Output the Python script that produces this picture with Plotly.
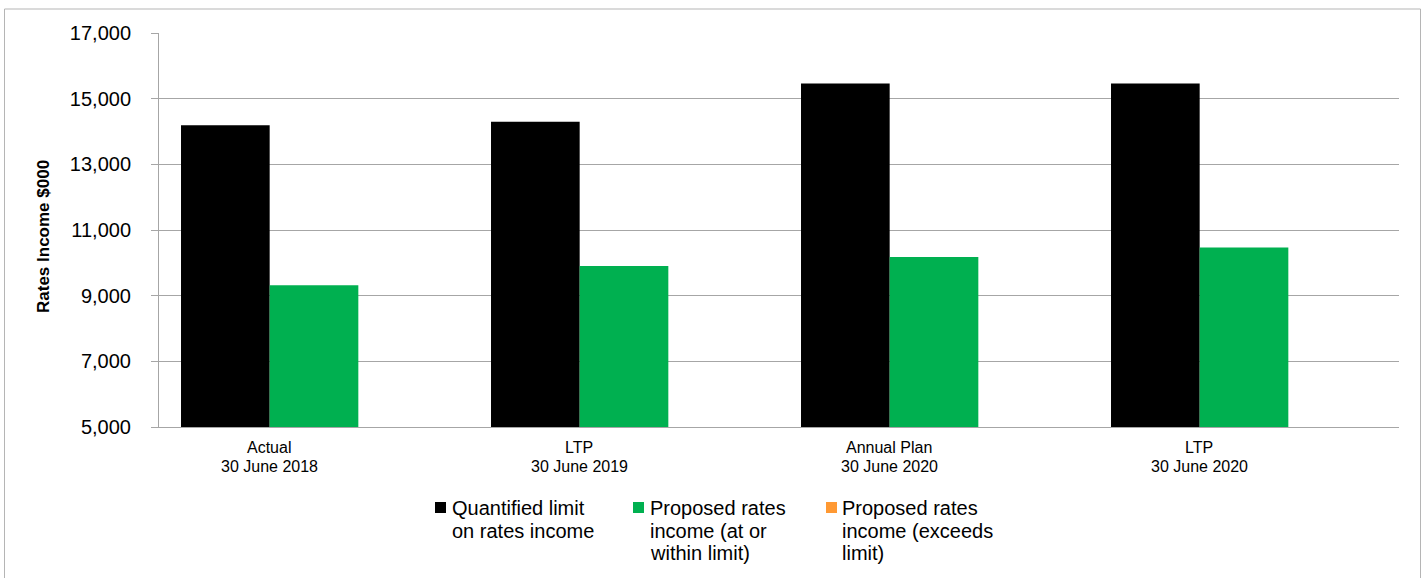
import plotly.graph_objects as go

# ---- data ----
periods = ["Actual 30 June 2018", "LTP 30 June 2019",
           "Annual Plan 30 June 2020", "LTP 30 June 2020"]
period_kind = ["Actual", "LTP", "Annual Plan", "LTP"]
period_date = ["30 June 2018", "30 June 2019", "30 June 2020", "30 June 2020"]

limit_income = [14190, 14300, 15460, 15460]
proposed_within = [9320, 9900, 10180, 10470]
proposed_exceeds = [None, None, None, None]

series_names = ["Quantified limit on rates income",
                "Proposed rates income (at or within limit)",
                "Proposed rates income (exceeds limit)"]
series_legend_lines = [["Quantified limit", "on rates income"],
                       ["Proposed rates", "income (at or", "within limit)"],
                       ["Proposed rates", "income (exceeds", "limit)"]]
series_colors = ["#000000", "#00B050", "#FF9933"]

y_ticks = [5000, 7000, 9000, 11000, 13000, 15000, 17000]
y_title = "Rates Income $000"

# ---- geometry (pixels) ----
W, H = 1427, 578
L, R, T, B = 159, 28, 33, 151
PW, PH = W - L - R, H - T - B

def px_x(px):
    return (px - L) / PW

def px_y(py):
    return (H - B - py) / PH

FONT = "Arial, Liberation Sans, sans-serif"
GRID = "#a6a6a6"

fig = go.Figure()
for name, vals, col in zip(series_names, [limit_income, proposed_within, proposed_exceeds], series_colors):
    fig.add_trace(go.Bar(x=periods, y=vals, name=name, marker_color=col,
                         marker_line_width=0, showlegend=False))

annotations = []
# category labels, two lines each, shifted left of the category centre
for p, kind, date in zip(periods, period_kind, period_date):
    annotations.append(dict(x=p, xref="x", y=px_y(447), yref="paper", text=kind,
                            showarrow=False, xanchor="center", yanchor="middle",
                            xshift=-45, font=dict(family=FONT, size=16, color="#000")))
    annotations.append(dict(x=p, xref="x", y=px_y(466), yref="paper", text=date,
                            showarrow=False, xanchor="center", yanchor="middle",
                            xshift=-45, font=dict(family=FONT, size=16, color="#000")))

# axis title
annotations.append(dict(x=px_x(43), xref="paper", y=px_y(237), yref="paper",
                        text="<b>" + y_title + "</b>", textangle=-90, showarrow=False,
                        xanchor="center", yanchor="middle",
                        font=dict(family=FONT, size=17, color="#000")))

shapes = []
# legend
legend_square_x = [435, 633, 826]
legend_text_x = [450, 648, 840]
line_centres = [508, 530.5, 553]
for lines, col, sx, tx in zip(series_legend_lines, series_colors, legend_square_x, legend_text_x):
    shapes.append(dict(type="rect", xref="paper", yref="paper",
                       x0=px_x(sx), x1=px_x(sx + 11), y0=px_y(513), y1=px_y(502),
                       fillcolor=col, line=dict(width=0)))
    for ln, cy in zip(lines, line_centres):
        annotations.append(dict(x=px_x(tx), xref="paper", y=px_y(cy), yref="paper",
                                text=ln, showarrow=False, xanchor="left", yanchor="middle",
                                font=dict(family=FONT, size=20, color="#000")))

# outer chart border
shapes.append(dict(type="rect", xref="paper", yref="paper",
                   x0=px_x(4.5), x1=px_x(1420.5), y0=px_y(600), y1=px_y(9),
                   line=dict(color="#b5b5b5", width=1), fillcolor="rgba(0,0,0,0)"))

fig.update_layout(
    width=W, height=H,
    margin=dict(l=L, r=R, t=T, b=B, pad=0),
    paper_bgcolor="white", plot_bgcolor="white",
    barmode="group", bargap=0.142, bargroupgap=0,
    font=dict(family=FONT, color="#000"),
    annotations=annotations, shapes=shapes,
    xaxis=dict(showticklabels=False, ticks="", showgrid=False,
               showline=True, linecolor=GRID, linewidth=1, fixedrange=True),
    yaxis=dict(range=[5000, 17000], tickvals=y_ticks, tickformat=",d",
               showgrid=True, gridcolor=GRID, gridwidth=1,
               showline=True, linecolor=GRID, linewidth=1,
               ticks="outside", ticklen=7, tickcolor=GRID,
               ticklabelstandoff=16, zeroline=False,
               tickfont=dict(family=FONT, size=20, color="#000")),
)

fig.write_html("out.html")
